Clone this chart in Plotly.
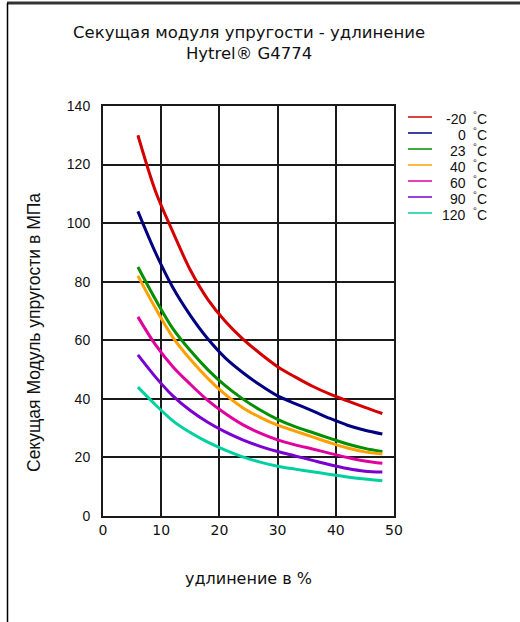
import plotly.graph_objects as go

elong = [6, 9, 12, 15, 18, 21, 24, 27, 30, 33, 36, 39, 42, 45, 48]
temps = ["-20", "0", "23", "40", "60", "90", "120"]
colors = ["#d40000", "#000080", "#009000", "#ffa000", "#e000a0", "#7a00d0", "#00d0a0"]
mod_m20 = [130, 111, 97, 84, 74, 66.5, 60.5, 55.5, 51, 47.5, 44.3, 41.6, 39.3, 37.1, 35]
mod_0 = [104, 90, 78, 68.5, 60.5, 54, 49, 44.7, 41, 38.4, 35.9, 33.3, 31, 29.3, 28]
mod_23 = [85, 74, 64, 56.5, 50, 44.5, 40, 36.2, 33, 30.5, 28.5, 26.5, 24.6, 23.1, 22]
mod_40 = [82, 71, 61, 53.5, 47, 41.5, 37, 33.7, 31, 29, 27, 25, 23.2, 21.9, 21.2]
mod_60 = [68, 58.5, 51, 45, 39.5, 35, 31.2, 28.3, 26, 24.3, 22.9, 21.4, 20, 18.8, 18]
mod_90 = [55, 47.5, 41, 36, 32, 28.7, 26, 23.8, 22, 20.5, 19, 17.5, 16.2, 15.3, 15]
mod_120 = [44, 38, 32.5, 28.5, 25.2, 22.5, 20.2, 18.4, 17, 16, 15.1, 14.2, 13.3, 12.6, 12]
series = [mod_m20, mod_0, mod_23, mod_40, mod_60, mod_90, mod_120]

fig = go.Figure()
for t, c, ys in zip(temps, colors, series):
    fig.add_trace(go.Scatter(x=elong, y=ys, mode="lines", name=t + " °C",
                             line=dict(color=c, width=3, shape="spline", smoothing=0.9),
                             showlegend=False))

W, H = 520, 622
L, R, T, B = 103, 126, 106, 106
pw, ph = W - L - R, H - T - B

def px(x):
    return (x - L) / pw

def py(y):
    return (H - B - y) / ph

shapes = []
annotations = []
# manual legend
for i, (t, c) in enumerate(zip(temps, colors)):
    yy = 117 + i * 16
    shapes.append(dict(type="line", xref="paper", yref="paper",
                       x0=px(408), x1=px(432), y0=py(yy), y1=py(yy),
                       line=dict(color=c, width=1.5)))
    annotations.append(dict(xref="paper", yref="paper", x=px(468), y=py(yy + 2),
                            text=t, showarrow=False, xanchor="right", yanchor="middle",
                            font=dict(family="Liberation Sans", size=14, color="#111")))
    annotations.append(dict(xref="paper", yref="paper", x=px(471), y=py(yy + 1),
                            text="<sup>°</sup>C", showarrow=False, xanchor="left", yanchor="middle",
                            font=dict(family="Liberation Sans", size=14, color="#111")))

# outer frame
shapes.append(dict(type="line", xref="paper", yref="paper", x0=px(7), x1=px(530),
                   y0=py(3), y1=py(3), line=dict(color="#333", width=3)))
shapes.append(dict(type="line", xref="paper", yref="paper", x0=px(7.5), x1=px(7.5),
                   y0=py(3), y1=py(640), line=dict(color="#000", width=1.5)))

annotations.append(dict(xref="paper", yref="paper", x=px(249), y=py(43),
                        text="Секущая модуля упругости - удлинение<br>Hytrel® G4774",
                        showarrow=False, xanchor="center", yanchor="middle",
                        font=dict(family="DejaVu Sans", size=16.5, color="#111")))
annotations.append(dict(xref="paper", yref="paper", x=px(248), y=py(578),
                        text="удлинение в %", showarrow=False, xanchor="center", yanchor="middle",
                        font=dict(family="DejaVu Sans", size=16, color="#111")))
annotations.append(dict(xref="paper", yref="paper", x=px(34), y=py(333),
                        text="Секущая Модуль упругости в МПа", showarrow=False, textangle=-90,
                        xanchor="center", yanchor="middle",
                        font=dict(family="Liberation Sans", size=17.5, color="#111")))

fig.update_layout(
    width=W, height=H,
    margin=dict(l=L, r=R, t=T, b=B),
    paper_bgcolor="white", plot_bgcolor="white",
    showlegend=False,
    shapes=shapes, annotations=annotations,
    xaxis=dict(range=[0, 50], tickvals=[0, 10, 20, 30, 40, 50], showgrid=True,
               gridcolor="#1a1a1a", gridwidth=2, showline=True, linecolor="#1a1a1a", linewidth=2,
               mirror=True, ticks="", zeroline=False,
               tickfont=dict(family="DejaVu Sans", size=14, color="#111")),
    yaxis=dict(range=[0, 140], tickvals=[0, 20, 40, 60, 80, 100, 120, 140], showgrid=True,
               gridcolor="#1a1a1a", gridwidth=2, showline=True, linecolor="#1a1a1a", linewidth=2,
               mirror=True, ticks="", zeroline=False, ticklabelstandoff=8,
               tickfont=dict(family="Liberation Sans", size=14, color="#111")),
)

fig.write_html("out.html")
